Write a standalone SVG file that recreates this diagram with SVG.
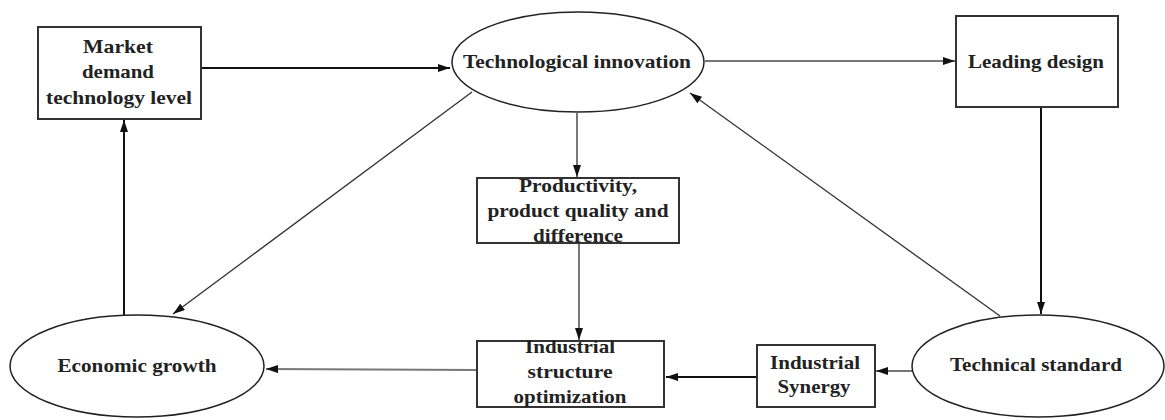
<svg xmlns="http://www.w3.org/2000/svg" width="1165" height="420" viewBox="0 0 1165 420">
<style>
.box{fill:#fff;stroke:#333;stroke-width:2}
.ell{fill:#fff;stroke:#222;stroke-width:1.5}
.t{font-family:"Liberation Serif","Times New Roman",serif;font-weight:bold;font-size:19px;fill:#222;text-anchor:middle}
.c{fill:none;stroke-width:2}
.k{stroke:#111}
.g{stroke:#777}
.d{stroke:#333;stroke-width:1.3}
</style>
<defs>
<marker id="ah" viewBox="0 0 12 8" refX="12" refY="4" markerWidth="12" markerHeight="8" markerUnits="userSpaceOnUse" orient="auto">
<path d="M0,0 L12,4 L0,8 z" fill="#111"/>
</marker>
</defs>
<g id="connectors">
<line class="c k" x1="201" y1="68" x2="450" y2="68" marker-end="url(#ah)"/>
<line class="c g" x1="705" y1="61" x2="955" y2="61" marker-end="url(#ah)"/>
<line class="c k" x1="1041" y1="107" x2="1041" y2="314" marker-end="url(#ah)"/>
<line class="c g" x1="912" y1="371" x2="876" y2="371" marker-end="url(#ah)"/>
<line class="c k" x1="757" y1="377" x2="666" y2="377" marker-end="url(#ah)"/>
<line class="c g" x1="477" y1="370" x2="266" y2="369" marker-end="url(#ah)"/>
<line class="c k" x1="124" y1="315" x2="124" y2="120" marker-end="url(#ah)"/>
<line class="c g" x1="577" y1="113" x2="577" y2="177" marker-end="url(#ah)"/>
<line class="c g" x1="579" y1="243" x2="579" y2="340" marker-end="url(#ah)"/>
<line class="c d" x1="472" y1="92" x2="173" y2="314" marker-end="url(#ah)"/>
<line class="c d" x1="1000" y1="316" x2="690" y2="93" marker-end="url(#ah)"/>
</g>
<g id="market">
<rect class="box" x="38" y="27" width="163" height="92"/>
<text class="t" x="118" y="53" textLength="70" lengthAdjust="spacingAndGlyphs">Market</text>
<text class="t" x="118" y="78" textLength="72" lengthAdjust="spacingAndGlyphs">demand</text>
<text class="t" x="119" y="104" textLength="146" lengthAdjust="spacingAndGlyphs">technology level</text>
</g>
<g id="techinnov">
<ellipse class="ell" cx="578" cy="62" rx="126" ry="50"/>
<text class="t" x="577" y="68" textLength="228" lengthAdjust="spacingAndGlyphs">Technological innovation</text>
</g>
<g id="leading">
<rect class="box" x="956" y="16" width="162" height="91"/>
<text class="t" x="1036" y="68" textLength="136" lengthAdjust="spacingAndGlyphs">Leading design</text>
</g>
<g id="productivity">
<rect class="box" x="477" y="178" width="202" height="65"/>
<text class="t" x="578" y="192" textLength="118" lengthAdjust="spacingAndGlyphs">Productivity,</text>
<text class="t" x="578" y="217" textLength="181" lengthAdjust="spacingAndGlyphs">product quality and</text>
<text class="t" x="578" y="242" textLength="90" lengthAdjust="spacingAndGlyphs">difference</text>
</g>
<g id="economic">
<ellipse class="ell" cx="137" cy="366" rx="127" ry="51"/>
<text class="t" x="137" y="372" textLength="159" lengthAdjust="spacingAndGlyphs">Economic growth</text>
</g>
<g id="industrial">
<rect class="box" x="477" y="341" width="187" height="66"/>
<text class="t" x="570" y="353" textLength="90" lengthAdjust="spacingAndGlyphs">Industrial</text>
<text class="t" x="570" y="378" textLength="85" lengthAdjust="spacingAndGlyphs">structure</text>
<text class="t" x="570" y="403" textLength="113" lengthAdjust="spacingAndGlyphs">optimization</text>
</g>
<g id="synergy">
<rect class="box" x="757" y="345" width="118" height="62"/>
<text class="t" x="815" y="369" textLength="90" lengthAdjust="spacingAndGlyphs">Industrial</text>
<text class="t" x="814" y="393" textLength="73" lengthAdjust="spacingAndGlyphs">Synergy</text>
</g>
<g id="techstandard">
<ellipse class="ell" cx="1038" cy="366" rx="126" ry="51"/>
<text class="t" x="1036" y="371" textLength="172" lengthAdjust="spacingAndGlyphs">Technical standard</text>
</g>
</svg>
